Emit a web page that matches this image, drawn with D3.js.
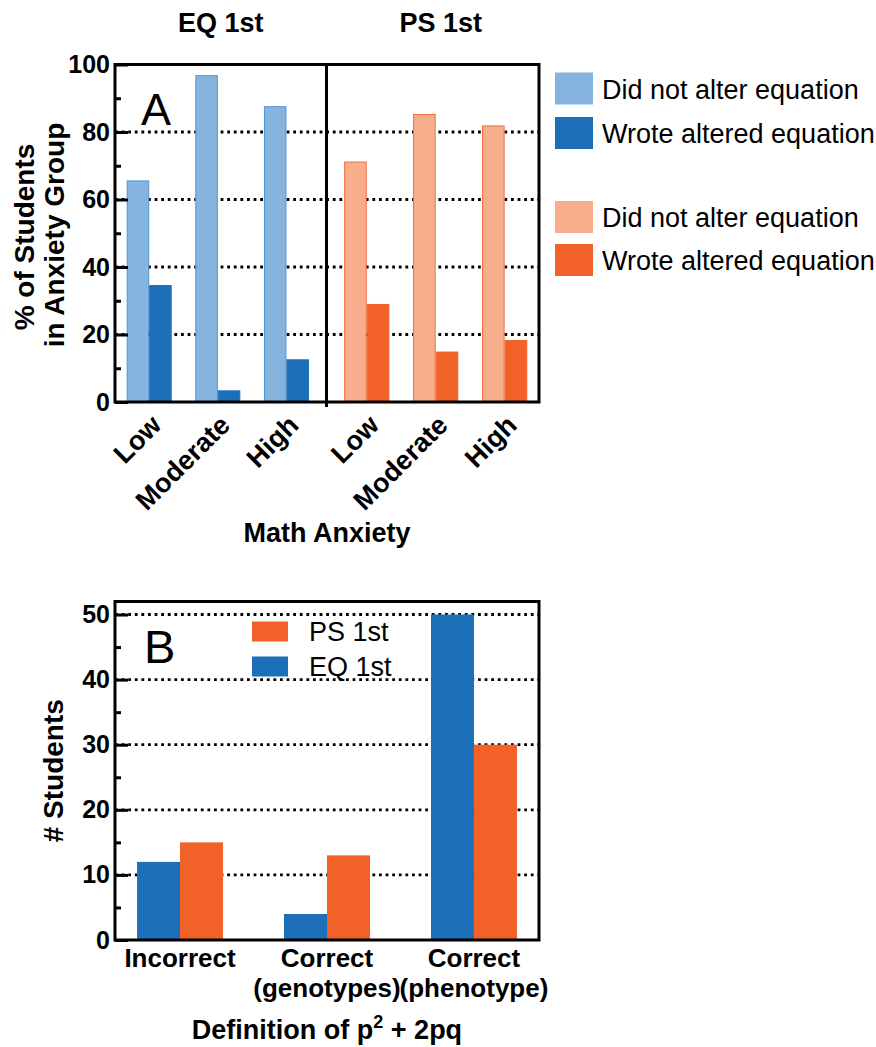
<!DOCTYPE html>
<html>
<head>
<meta charset="utf-8">
<script src="https://cdn.jsdelivr.net/npm/d3@7"></script>
<style>
  body { margin: 0; background: #fff; }
  text { font-family: "Liberation Sans", Arial, sans-serif; fill: #000; }
</style>
</head>
<body>
<svg id="chart" width="876" height="1047"></svg>
<script>
// panel A data (% of students in each anxiety group)
var levels = ["Low", "Moderate", "High"];
var seriesA = ["Did not alter equation", "Wrote altered equation"];
var eqNotAltered = [65.5, 96.7, 87.5];
var eqAltered = [34.5, 3.3, 12.5];
var psNotAltered = [71.1, 85.2, 81.8];
var psAltered = [28.9, 14.8, 18.2];
var ticksA = [0, 20, 40, 60, 80, 100];
var minorA = [10, 30, 50, 70, 90];

// panel B data (# students)
var categoriesB = [["Incorrect"], ["Correct", "(genotypes)"], ["Correct", "(phenotype)"]];
var seriesB = ["EQ 1st", "PS 1st"];
var eqStudents = [12, 4, 50];
var psStudents = [15, 13, 30];
var ticksB = [0, 10, 20, 30, 40, 50];
var minorB = [5, 15, 25, 35, 45];

var svg = d3.select("#chart");

var dotted = function (sel) {
	sel.attr("stroke", "#000")
		.attr("stroke-width", 2.8)
		.attr("stroke-dasharray", "2.8 3.8");
};

var yAxisInward = function (g, scale, major, minor) {
	g.append("g")
		.call(d3.axisLeft(scale).tickValues(major).tickSizeInner(-13).tickSizeOuter(0).tickPadding(5))
		.call(function (a) {
			a.select(".domain").remove();
			a.selectAll("line").attr("stroke", "#000").attr("stroke-width", 3);
			a.selectAll("text").attr("font-size", 25).attr("font-weight", "bold").attr("font-family", "Liberation Sans, Arial, sans-serif");
		});
	g.append("g")
		.call(d3.axisLeft(scale).tickValues(minor).tickSizeInner(-6).tickSizeOuter(0).tickFormat(""))
		.call(function (a) {
			a.select(".domain").remove();
			a.selectAll("line").attr("stroke", "#000").attr("stroke-width", 3);
		});
};

// ---------------- Panel A ----------------
var A = { left: 115, right: 539, top: 64.5, bottom: 402, divide: 326.5 };
var yA = d3.scaleLinear().domain([0, 100]).range([A.bottom, A.top]);

var halves = [
	{
		title: "EQ 1st",
		titleShift: 0,
		x: d3.scaleBand().domain(levels).range([A.left, A.divide]).paddingInner(0.344).paddingOuter(0.213).align(0.4),
		values: [eqNotAltered, eqAltered],
		fills: ["#85b4de", "#1c6fb8"],
		strokes: ["#4f94d4", "#1c6fb8"]
	},
	{
		title: "PS 1st",
		titleShift: 8,
		x: d3.scaleBand().domain(levels).range([A.divide, A.right]).paddingInner(0.344).paddingOuter(0.213).align(0.6),
		values: [psNotAltered, psAltered],
		fills: ["#f8ad8c", "#f26127"],
		strokes: ["#f07040", "#f26127"]
	}
];

var gA = svg.append("g");

gA.selectAll(".gridA").data(ticksA.filter(function (d) { return d > 0 && d < 100; }))
	.enter().append("line")
	.attr("x1", A.left).attr("x2", A.right)
	.attr("y1", function (d) { return yA(d); })
	.attr("y2", function (d) { return yA(d); })
	.call(dotted);

halves.forEach(function (h) {
	var inner = d3.scaleBand().domain(seriesA).range([0, h.x.bandwidth()]);
	seriesA.forEach(function (s, si) {
		gA.append("g").selectAll("rect").data(levels)
			.enter().append("rect")
			.attr("x", function (d) { return h.x(d) + inner(s) + 0.5; })
			.attr("y", function (d, i) { return yA(h.values[si][i]); })
			.attr("width", inner.bandwidth() - 1)
			.attr("height", function (d, i) { return yA(0) - yA(h.values[si][i]); })
			.attr("fill", h.fills[si])
			.attr("stroke", h.strokes[si])
			.attr("stroke-width", 1);
	});

	gA.append("text")
		.attr("x", (h.x.range()[0] + h.x.range()[1]) / 2 + h.titleShift)
		.attr("y", 32)
		.attr("text-anchor", "middle")
		.attr("font-size", 27)
		.attr("font-weight", "bold")
		.text(h.title);

	gA.append("g").selectAll("text").data(levels)
		.enter().append("text")
		.attr("transform", function (d) {
			return "translate(" + (h.x(d) + h.x.bandwidth() / 2) + "," + (A.bottom + 11) + ") rotate(-45)";
		})
		.attr("text-anchor", "end")
		.attr("dy", "0.72em")
		.attr("font-size", 27)
		.attr("font-weight", "bold")
		.text(function (d) { return d; });
});

// frame and divider
gA.append("rect")
	.attr("x", A.left).attr("y", A.top)
	.attr("width", A.right - A.left).attr("height", A.bottom - A.top)
	.attr("fill", "none").attr("stroke", "#000").attr("stroke-width", 3);
gA.append("line")
	.attr("x1", A.divide).attr("x2", A.divide)
	.attr("y1", A.top).attr("y2", A.bottom + 5)
	.attr("stroke", "#000").attr("stroke-width", 3);

gA.append("g").attr("transform", "translate(" + A.left + ",0)").call(function (g) { yAxisInward(g, yA, ticksA, minorA); });

gA.append("text").attr("x", 141).attr("y", 125).attr("font-size", 45).text("A");

gA.append("text")
	.attr("transform", "translate(34,237) rotate(-90)")
	.attr("text-anchor", "middle").attr("font-size", 28).attr("font-weight", "bold")
	.text("% of Students");
gA.append("text")
	.attr("transform", "translate(64,235) rotate(-90)")
	.attr("text-anchor", "middle").attr("font-size", 28).attr("font-weight", "bold")
	.text("in Anxiety Group");

gA.append("text")
	.attr("x", (A.left + A.right) / 2).attr("y", 542)
	.attr("text-anchor", "middle").attr("font-size", 27).attr("font-weight", "bold")
	.text("Math Anxiety");

// legend A
var legendA = [
	{ label: seriesA[0], fill: halves[0].fills[0], y: 72.5 },
	{ label: seriesA[1], fill: halves[0].fills[1], y: 117 },
	{ label: seriesA[0], fill: halves[1].fills[0], y: 201 },
	{ label: seriesA[1], fill: halves[1].fills[1], y: 244 }
];
var lgA = gA.append("g").selectAll("g").data(legendA).enter().append("g");
lgA.append("rect")
	.attr("x", 555).attr("y", function (d) { return d.y; })
	.attr("width", 38).attr("height", 32)
	.attr("fill", function (d) { return d.fill; });
lgA.append("text")
	.attr("x", 602).attr("y", function (d) { return d.y + 26; })
	.attr("font-size", 27)
	.text(function (d) { return d.label; });

// ---------------- Panel B ----------------
var B = { left: 115, right: 539, top: 601.5, bottom: 940 };
var yB = d3.scaleLinear().domain([0, 52]).range([B.bottom, B.top]);
var xB = d3.scaleBand().domain(d3.range(categoriesB.length)).range([B.left, B.right]).paddingInner(0.415).paddingOuter(0.15);
var xInnerB = d3.scaleBand().domain(seriesB).range([0, xB.bandwidth()]);
var valuesB = [eqStudents, psStudents];
var colorB = d3.scaleOrdinal().domain(seriesB).range(["#1c6fb8", "#f26127"]);

var gB = svg.append("g");

gB.selectAll(".gridB").data(ticksB.filter(function (d) { return d > 0; }))
	.enter().append("line")
	.attr("x1", B.left).attr("x2", B.right)
	.attr("y1", function (d) { return yB(d); })
	.attr("y2", function (d) { return yB(d); })
	.call(dotted);

seriesB.forEach(function (s, si) {
	gB.append("g").selectAll("rect").data(valuesB[si])
		.enter().append("rect")
		.attr("x", function (d, i) { return xB(i) + xInnerB(s); })
		.attr("y", function (d) { return yB(d); })
		.attr("width", xInnerB.bandwidth())
		.attr("height", function (d) { return yB(0) - yB(d); })
		.attr("fill", colorB(s));
});

gB.append("rect")
	.attr("x", B.left).attr("y", B.top)
	.attr("width", B.right - B.left).attr("height", B.bottom - B.top)
	.attr("fill", "none").attr("stroke", "#000").attr("stroke-width", 3);

gB.append("g").attr("transform", "translate(" + B.left + ",0)").call(function (g) { yAxisInward(g, yB, ticksB, minorB); });

var xLabB = gB.append("g").selectAll("text").data(categoriesB)
	.enter().append("text")
	.attr("x", function (d, i) { return xB(i) + xB.bandwidth() / 2; })
	.attr("y", 967)
	.attr("text-anchor", "middle")
	.attr("font-size", 26)
	.attr("font-weight", "bold");
xLabB.selectAll("tspan").data(function (d) { return d; })
	.enter().append("tspan")
	.attr("x", function () { return d3.select(this.parentNode).attr("x"); })
	.attr("dy", function (d, i) { return i === 0 ? 0 : 30; })
	.text(function (d) { return d; });

var titleB = gB.append("text")
	.attr("x", (B.left + B.right) / 2).attr("y", 1039)
	.attr("text-anchor", "middle").attr("font-size", 27).attr("font-weight", "bold");
titleB.append("tspan").text("Definition of p");
titleB.append("tspan").attr("dy", -11).attr("font-size", 18).text("2");
titleB.append("tspan").attr("dy", 11).text(" + 2pq");

gB.append("text")
	.attr("transform", "translate(63," + ((B.top + B.bottom) / 2) + ") rotate(-90)")
	.attr("text-anchor", "middle").attr("font-size", 28).attr("font-weight", "bold")
	.text("# Students");

gB.append("text").attr("x", 144).attr("y", 663).attr("font-size", 47).text("B");

// legend B (PS first, then EQ)
var lgB = gB.append("g").selectAll("g").data(["PS 1st", "EQ 1st"]).enter().append("g");
lgB.append("rect")
	.attr("x", 252).attr("y", function (d, i) { return 621.5 + i * 35; })
	.attr("width", 36).attr("height", 20)
	.attr("fill", function (d) { return colorB(d); });
lgB.append("text")
	.attr("x", 309).attr("y", function (d, i) { return 641 + i * 35; })
	.attr("font-size", 27)
	.text(function (d) { return d; });
</script>
</body>
</html>
